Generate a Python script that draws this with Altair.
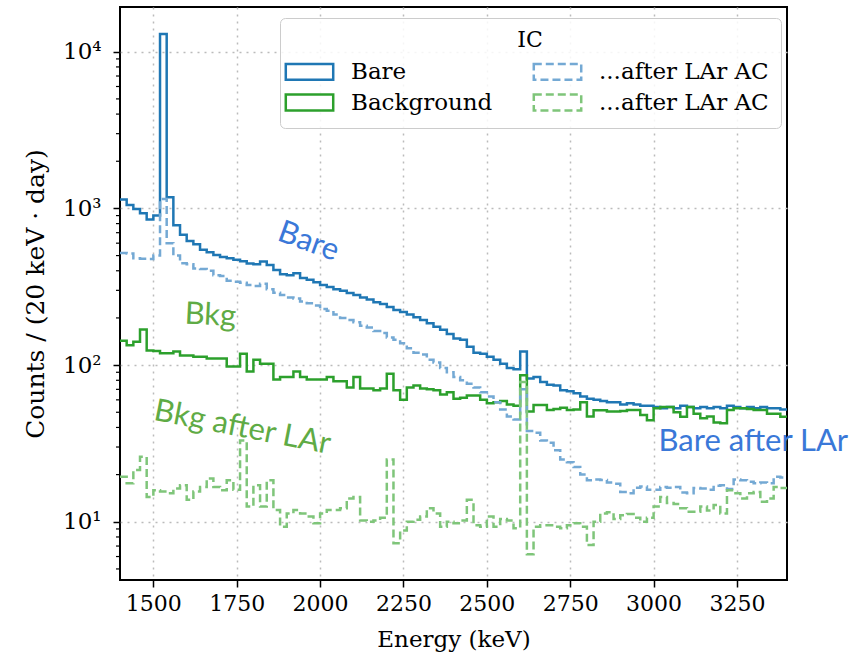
import altair as alt
import pandas as pd

# ---- data (20 keV bins starting at 1400 keV) ----
bin_start = 1400
bin_width = 20

bare = [1140, 1050, 990, 930, 850, 900, 13000, 1180, 780, 680,
        620, 590, 545, 525, 505, 490, 480, 470, 460, 445,
        440, 458, 435, 405, 380, 375, 385, 360, 350, 338,
        325, 315, 305, 298, 288, 280, 270, 262, 252, 245,
        235, 225, 218, 210, 202, 194, 185, 176, 168, 158,
        148, 145, 131, 120, 118, 113, 108, 102, 96, 94,
        122, 82, 84, 78, 75, 74, 69, 68, 66, 63,
        61, 60, 59, 58, 58, 56, 57, 56, 55, 55,
        54, 53, 54, 53, 55, 54, 53, 54, 53, 54,
        53, 55, 54, 53, 54, 53, 54, 53, 53, 52]

bare_lar = [520, 515, 480, 478, 475, 500, 1150, 600, 500, 446,
            440, 414, 410, 400, 375, 370, 345, 340, 335, 324,
            320, 330, 305, 290, 280, 270, 266, 255, 248, 240,
            228, 222, 210, 200, 194, 188, 178, 174, 165, 160,
            150, 145, 138, 128, 120, 117, 108, 104, 96, 90,
            84, 80, 76, 72, 67, 63, 58, 52, 47, 45,
            70, 38, 37, 33, 32, 28.6, 25, 24, 22.4, 20,
            18.4, 18.6, 18.5, 17.8, 17.5, 15.5, 15.2, 16.5, 16.8, 16,
            16, 16.7, 16.5, 16.7, 15.4, 15.2, 16.4, 16.3, 16, 17,
            17.1, 16.2, 18.6, 18.4, 18, 17.6, 17.8, 17.6, 19.4, 19.2]

bkg = [143, 134, 141, 169, 124, 123, 119, 119, 122, 115,
       115, 113, 113, 110, 110, 110, 98, 98, 118, 91,
       108, 102, 102, 81, 84, 84, 91, 84, 81, 81,
       81, 84, 79, 79, 72, 84, 71, 71, 69, 71,
       88, 69, 60, 72, 74, 71, 70, 69, 65, 67,
       61, 62, 64, 64, 60, 57, 58, 59, 56, 55,
       86, 50.5, 55.6, 55.6, 51.7, 52.5, 53.5, 51.7, 52, 58,
       47, 51.5, 51.5, 50.5, 50.5, 51, 51.7, 51.7, 48, 44.5,
       53, 54, 54, 50, 46.8, 54, 49, 45.8, 47, 43,
       42.5, 51.7, 53, 53, 52.5, 51.7, 51.7, 49, 49, 46.8]

bkg_lar = [19.4, 17.6, 21.4, 26, 14.4, 15.9, 15.6, 15.2, 16.3, 17.1,
           13.8, 15.6, 16.7, 18.9, 16.7, 15.9, 18.4, 16, 33, 12.5,
           17.1, 12.5, 18.4, 11.9, 9.3, 11.3, 11.9, 11.3, 10.8, 9.8,
           11.3, 11.9, 11.9, 12.2, 14.1, 14.4, 10.2, 10, 10.2, 10.6,
           25, 7.3, 8.8, 10, 10.3, 10.8, 12.2, 11.3, 9.3, 10,
           9.8, 10.2, 13.8, 9.5, 9.3, 10.8, 9.3, 10.4, 10.2, 9.1,
           78, 6.2, 9.3, 9.5, 9.5, 9.3, 9.1, 9.5, 9.8, 9.3,
           7.1, 10, 11.3, 11.5, 10.4, 11, 11.2, 10.6, 10, 10.6,
           12.5, 14.4, 13.2, 13, 12.2, 11.6, 11.6, 12.5, 11.8, 12.8,
           11.3, 15.9, 15.2, 14.1, 15.2, 15.5, 13.4, 14.1, 16.7, 16.4]

# legend fills column by column: Bare, Background | ...after LAr AC, ...after LAr AC
series_names = ["Bare", "Background", "Bare LAr", "Bkg LAr"]
series_values = [bare, bkg, bare_lar, bkg_lar]
series_colors = ["#1f77b4", "#2ca02c", "#74a9d4", "#7fc57a"]
series_dash = [[1, 0], [1, 0], [8, 4], [8, 4]]

x_ticks = [1500, 1750, 2000, 2250, 2500, 2750, 3000, 3250]
y_ticks = [10, 100, 1000, 10000]
y_minor = [5, 6, 7, 8, 9, 20, 30, 40, 50, 60, 70, 80, 90,
           200, 300, 400, 500, 600, 700, 800, 900,
           2000, 3000, 4000, 5000, 6000, 7000, 8000, 9000]

ann_text = ["Bare", "Bkg", "Bkg after LAr", "Bare after LAr"]
ann_E = [1965, 1671, 1767, 3299]
ann_c = [610, 206, 39.7, 32.3]
ann_angle = [20, 3, 11, 0]
ann_color = ["#3a78d8", "#5fab45", "#5fab45", "#3a78d8"]

# ---- build tables ----
rows = []
for name, vals in zip(series_names, series_values):
    for i, v in enumerate(vals):
        rows.append({"E": bin_start + i * bin_width, "c": v, "s": name})
    rows.append({"E": bin_start + len(vals) * bin_width, "c": vals[-1], "s": name})
df = pd.DataFrame(rows)

ann_df = pd.DataFrame({"t": ann_text, "E": ann_E, "c": ann_c, "a": ann_angle, "col": ann_color})
minor_df = pd.DataFrame({"m": y_minor})

SERIF = "DejaVu Serif"
xscale = alt.Scale(domain=[1400, 3400], nice=False, zero=False)
yscale = alt.Scale(type="log", domain=[4.25, 19300], nice=False)

legend = alt.Legend(
    title="IC", orient="none", legendX=160, legendY=11, columns=2,
    symbolType="M-1.5,-0.5L1.5,-0.5L1.5,0.5L-1.5,0.5Z", symbolSize=1000,
    symbolStrokeWidth=2.5, symbolFillColor="white",
    labelFont=SERIF, labelFontSize=23, labelColor="black", labelOffset=24, labelLimit=400,
    titleFont=SERIF, titleFontSize=22, titleFontWeight="normal", titleColor="black",
    titleAnchor="middle", titlePadding=2,
    fillColor="rgba(255,255,255,0.85)", strokeColor="#cccccc", cornerRadius=5,
    padding=12, columnPadding=35, rowPadding=0,
    labelExpr="indexof(datum.label, 'LAr') >= 0 ? '...after LAr AC' : datum.label",
)

lines = alt.Chart(df).mark_line(interpolate="step-after", strokeWidth=2.5, clip=True).encode(
    x=alt.X("E:Q", scale=xscale, axis=alt.Axis(
        title="Energy (keV)", values=x_ticks, format="d",
        grid=True, gridDash=[2, 5], gridColor="#bbbbbb", gridWidth=1.5,
        domain=False, tickColor="black", tickSize=7, tickWidth=1.5,
        labelFont=SERIF, labelFontSize=22, labelColor="black", labelPadding=6,
        titleFont=SERIF, titleFontSize=23, titleFontWeight="normal", titleColor="black",
        titlePadding=14)),
    y=alt.Y("c:Q", scale=yscale, axis=alt.Axis(
        title="Counts / (20 keV · day)", values=y_ticks,
        labelExpr="datum.value == 10 ? '10¹' : datum.value == 100 ? '10²' : datum.value == 1000 ? '10³' : '10⁴'",
        grid=True, gridDash=[2, 5], gridColor="#bbbbbb", gridWidth=1.5,
        domain=False, tickColor="black", tickSize=7, tickWidth=1.5,
        labelFont=SERIF, labelFontSize=23, labelColor="black", labelPadding=12,
        titleFont=SERIF, titleFontSize=25, titleFontWeight="normal", titleColor="black",
        titlePadding=14)),
    color=alt.Color("s:N", scale=alt.Scale(domain=series_names, range=series_colors), legend=legend),
    strokeDash=alt.StrokeDash("s:N", scale=alt.Scale(domain=series_names, range=series_dash), legend=legend),
    detail="s:N",
)

minor = alt.Chart(minor_df).mark_rule(color="black", strokeWidth=1.2).encode(
    y=alt.Y("m:Q", scale=yscale),
    x=alt.value(-4),
    x2=alt.value(0),
)

texts = alt.Chart(ann_df).mark_text(font="Lato", fontSize=31, align="center", baseline="middle").encode(
    x=alt.X("E:Q", scale=xscale),
    y=alt.Y("c:Q", scale=yscale),
    text="t:N",
    angle=alt.Angle("a:Q", scale=None),
    color=alt.Color("col:N", scale=None),
)

chart = alt.layer(lines, minor, texts).properties(
    width=667, height=573,
    autosize=alt.AutoSizeParams(type="none"),
    padding={"left": 120, "top": 7, "right": 69, "bottom": 81},
    background="white",
).configure_view(stroke="black", strokeWidth=2)

chart.save("out.html", embed_options={"renderer": "svg", "actions": False})
